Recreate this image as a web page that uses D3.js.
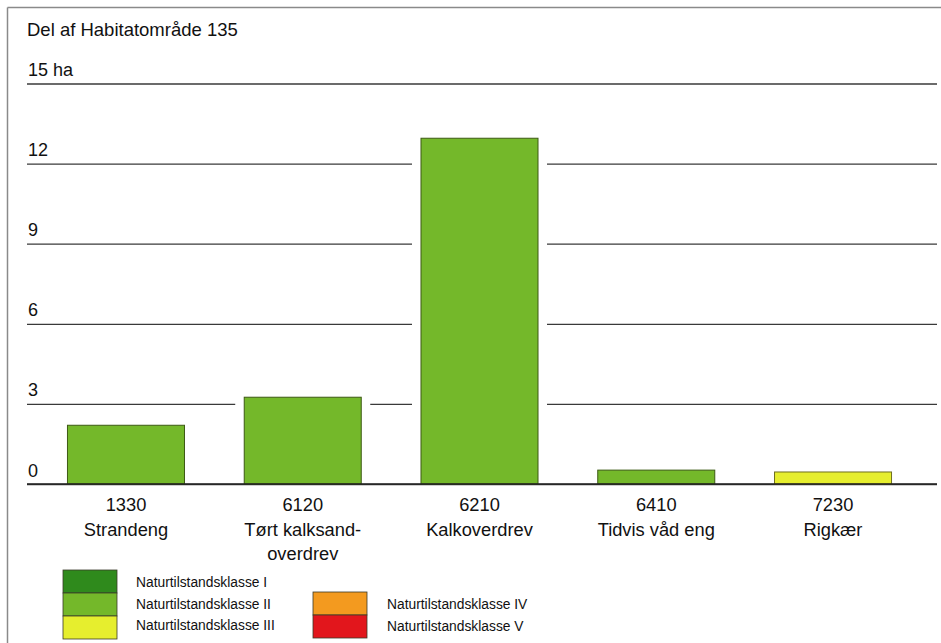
<!DOCTYPE html>
<html>
<head>
<meta charset="utf-8">
<script src="https://cdn.jsdelivr.net/npm/d3@7"></script>
<style>
  html, body { margin: 0; padding: 0; background: #fff; }
  svg { display: block; font-family: "Liberation Sans", Arial, Helvetica, sans-serif; }
</style>
</head>
<body>
<svg id="chart" width="941" height="643"></svg>
<script>
// ---- data ----
const title = "Del af Habitatområde 135";
const codes = ["1330", "6120", "6210", "6410", "7230"];
const names = [["Strandeng"], ["Tørt kalksand-", "overdrev"], ["Kalkoverdrev"], ["Tidvis våd eng"], ["Rigkær"]];
const values = [2.2, 3.25, 12.95, 0.52, 0.45];
const barClass = ["II", "II", "II", "II", "III"];
const yTicks = [0, 3, 6, 9, 12, 15];
const yUnit = "ha";
const classNames = ["I", "II", "III", "IV", "V"];
const classColors = ["#2f8a1c", "#74b82a", "#e6ee2e", "#f39a1f", "#e2161c"];
const classStrokes = ["#3d5a14", "#3d5a14", "#6f6f20", "#7a5a14", "#7a1414"];
const legendLeft = ["I", "II", "III"];
const legendRight = ["IV", "V"];

// ---- drawing ----
const svg = d3.select("#chart");
const colorOf = d3.scaleOrdinal().domain(classNames).range(classColors);
const strokeOf = d3.scaleOrdinal().domain(classNames).range(classStrokes);

const plotLeft = 27, plotRight = 937;
const y = d3.scaleLinear().domain([0, 15]).range([484, 83.5]);
const x = d3.scaleBand().domain(codes).range([37.6, 921.4]).paddingInner(0.338).paddingOuter(0.169);

// frame
svg.append("line").attr("x1", 7.5).attr("x2", 7.5).attr("y1", 7.5).attr("y2", 643)
  .attr("stroke", "#8a8a8a").attr("stroke-width", 1.5);
svg.append("line").attr("x1", 7.5).attr("x2", 941).attr("y1", 7.5).attr("y2", 7.5)
  .attr("stroke", "#8a8a8a").attr("stroke-width", 1.5);

// title
svg.append("text").attr("x", 27).attr("y", 36).attr("font-size", 18.5).attr("fill", "#111").text(title);

// gridlines via axis
const yAxis = d3.axisRight(y).tickValues(yTicks).tickSize(plotRight - plotLeft).tickFormat("");
const gGrid = svg.append("g").attr("transform", `translate(${plotLeft},0)`).call(yAxis);
gGrid.select(".domain").remove();
gGrid.selectAll(".tick line").attr("stroke", "#3a3a3a").attr("stroke-width", 1.3);

// tick labels
svg.append("g").selectAll("text").data(yTicks).join("text")
  .attr("x", 28).attr("y", d => y(d) - 7.5)
  .attr("font-size", 18).attr("fill", "#111")
  .text(d => d === 15 ? `${d} ${yUnit}` : d);

// white halo behind bars (gridline gaps)
const halo = 9;
svg.append("g").selectAll("rect").data(codes).join("rect")
  .attr("x", d => x(d) - halo)
  .attr("y", (d, i) => y(values[i]) - 2)
  .attr("width", x.bandwidth() + 2 * halo)
  .attr("height", (d, i) => y(0) - y(values[i]) + 0.5)
  .attr("fill", "#fff");

// bars
svg.append("g").selectAll("rect").data(codes).join("rect")
  .attr("x", d => x(d))
  .attr("y", (d, i) => y(values[i]))
  .attr("width", x.bandwidth())
  .attr("height", (d, i) => y(0) - y(values[i]))
  .attr("fill", (d, i) => colorOf(barClass[i]))
  .attr("stroke", (d, i) => strokeOf(barClass[i]))
  .attr("stroke-width", 1);

// baseline
svg.append("line").attr("x1", plotLeft).attr("x2", plotRight).attr("y1", y(0)).attr("y2", y(0))
  .attr("stroke", "#222").attr("stroke-width", 1.4);

// category labels
const lab = svg.append("g").selectAll("text").data(codes).join("text")
  .attr("text-anchor", "middle").attr("font-size", 18.3).attr("fill", "#111")
  .attr("x", d => x(d) + x.bandwidth() / 2).attr("y", 511);
lab.each(function (d, i) {
  const t = d3.select(this);
  const lines = [d].concat(names[i]);
  lines.forEach((s, k) => t.append("tspan").attr("x", x(d) + x.bandwidth() / 2).attr("dy", k === 0 ? 0 : 24.5).text(s));
});

// legend
function legendStack(items, sx, sy, tx) {
  const h = 23, w = 54;
  const g = svg.append("g");
  g.selectAll("rect").data(items).join("rect")
    .attr("x", sx).attr("y", (d, i) => sy + i * h).attr("width", w).attr("height", h)
    .attr("fill", d => colorOf(d)).attr("stroke", "#3a3a2a").attr("stroke-width", 0.8);
  g.selectAll("text").data(items).join("text")
    .attr("x", tx).attr("y", (d, i) => sy + i * 21.7 + 17)
    .attr("font-size", 13.8).attr("fill", "#111")
    .text(d => `Naturtilstandsklasse ${d}`);
}
legendStack(legendLeft, 63, 570, 136);
legendStack(legendRight, 313, 592, 387);
</script>
</body>
</html>
